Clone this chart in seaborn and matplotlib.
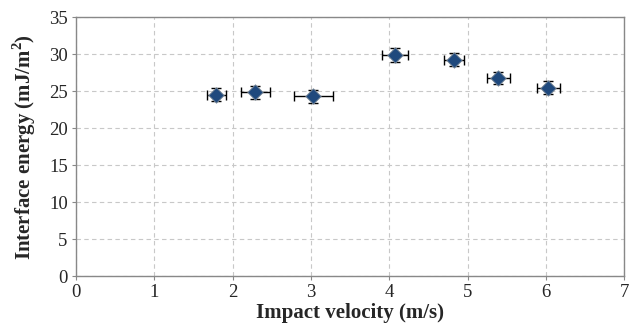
import numpy as np
import pandas as pd
import matplotlib
matplotlib.use('Agg')
import matplotlib.pyplot as plt
import seaborn as sns

velocity = [1.79, 2.29, 3.03, 4.07, 4.82, 5.39, 6.03]
energy = [24.55, 24.9, 24.3, 29.9, 29.3, 26.8, 25.5]
velocity_err = [0.12, 0.18, 0.25, 0.17, 0.13, 0.15, 0.15]
energy_err = [0.85, 0.88, 0.9, 0.95, 0.9, 0.85, 0.85]

df = pd.DataFrame({'velocity': velocity, 'energy': energy})

sns.set_style('white')
plt.rcParams['font.family'] = ['Liberation Serif', 'DejaVu Serif']
plt.rcParams['mathtext.fontset'] = 'custom'
plt.rcParams['mathtext.rm'] = 'Liberation Serif'
plt.rcParams['mathtext.bf'] = 'Liberation Serif:bold'

fig, ax = plt.subplots(figsize=(6.34, 3.35), dpi=100)
fig.subplots_adjust(left=0.12, right=0.985, top=0.948, bottom=0.176)

ax.errorbar(velocity, energy, xerr=velocity_err, yerr=energy_err, fmt='none',
            ecolor='black', elinewidth=1.0, capsize=3.5, capthick=1.0, zorder=2)
sns.scatterplot(data=df, x='velocity', y='energy', marker='D', s=62,
                color='#1f497d', edgecolor='#7f8c99', linewidth=0.6, ax=ax, zorder=3)

ax.set_xlim(0, 7)
ax.set_ylim(0, 35)
ax.set_xticks(range(0, 8))
ax.set_yticks(range(0, 36, 5))
ax.grid(True, linestyle=(0, (4, 3)), color='#c8c8c8', linewidth=0.8)
ax.set_axisbelow(True)
for s in ax.spines.values():
    s.set_color('#888888')
    s.set_linewidth(1.0)
ax.tick_params(axis='both', labelsize=13.5, length=3, color='#888888',
               direction='out', bottom=True, left=True, pad=3)

ax.set_xlabel('Impact velocity (m/s)', fontsize=15, fontweight='bold', labelpad=1)
ax.set_ylabel(r'Interface energy (mJ/m$^{\mathbf{2}}$)', fontsize=15,
              fontweight='bold', labelpad=8)

fig.savefig('out.png', dpi=100)
